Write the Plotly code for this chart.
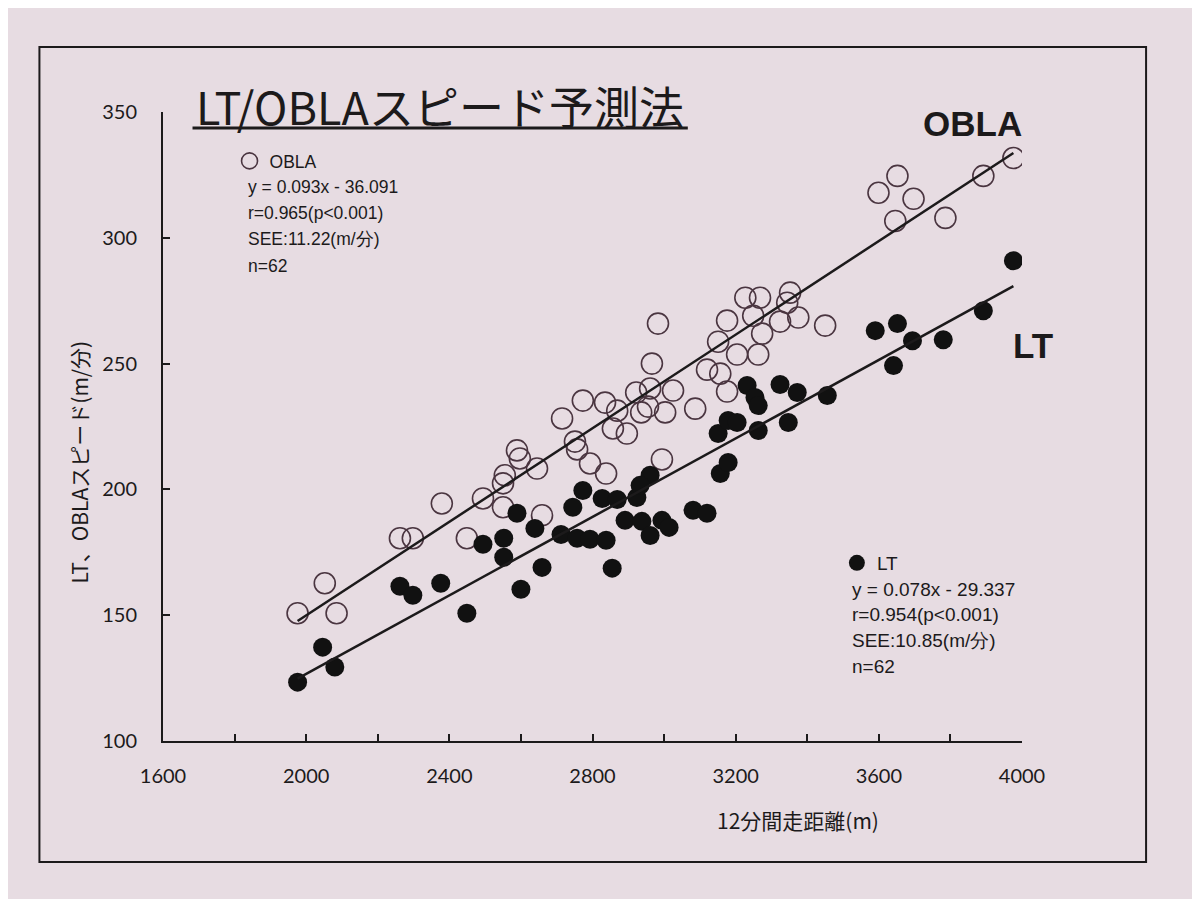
import plotly.graph_objects as go

# 12分間走距離 (m) と OBLA スピード (m/分)
obla_x = [1976, 2052, 2085, 2262, 2298, 2379, 2449, 2494, 2550, 2550,
          2555, 2589, 2597, 2645, 2659, 2715, 2751, 2757, 2773, 2793,
          2835, 2838, 2857, 2869, 2896, 2922, 2936, 2955, 2961, 2966,
          2983, 2994, 3003, 3025, 3087, 3120, 3151, 3157, 3176, 3176,
          3204, 3227, 3249, 3263, 3268, 3274, 3324, 3344, 3352, 3375,
          3450, 3599, 3652, 3646, 3697, 3786, 3892, 3976]
obla_y = [150.8, 162.7, 150.8, 180.6, 180.6, 194.4, 180.6, 196.4, 202.4, 192.9,
          205.6, 215.5, 212.3, 208.3, 189.7, 228.2, 219.0, 215.9, 235.3, 210.3,
          234.5, 206.3, 224.2, 231.3, 222.2, 238.5, 230.6, 232.9, 240.1, 250.0,
          265.9, 211.9, 230.6, 239.3, 232.1, 247.6, 258.7, 246.0, 267.1, 238.9,
          253.6, 276.2, 269.0, 253.6, 276.2, 261.9, 266.7, 274.2, 278.2, 268.3,
          265.1, 317.9, 324.6, 306.7, 315.5, 307.9, 324.6, 331.7]

# LT スピード (m/分)
lt_x = [1976, 2046, 2080, 2262, 2298, 2376, 2449, 2494, 2552, 2552,
        2589, 2600, 2639, 2659, 2712, 2745, 2757, 2773, 2793, 2827,
        2838, 2855, 2869, 2891, 2924, 2938, 2961, 2961, 2933, 2994,
        3014, 3081, 3120, 3157, 3179, 3151, 3179, 3204, 3232, 3254,
        3263, 3263, 3324, 3347, 3372, 3456, 3590, 3652, 3694, 3641,
        3780, 3892, 3976]
lt_y = [123.4, 137.3, 129.4, 161.5, 157.9, 162.7, 150.8, 178.2, 180.6, 173.0,
        190.5, 160.3, 184.5, 169.0, 182.1, 192.9, 180.6, 199.6, 180.2, 196.4,
        179.8, 168.7, 196.0, 187.7, 196.8, 187.3, 181.7, 205.6, 201.6, 187.7,
        184.9, 191.7, 190.5, 206.3, 210.7, 222.2, 227.4, 226.6, 241.3, 236.5,
        233.3, 223.4, 241.7, 226.6, 238.5, 237.3, 263.1, 265.9, 259.1, 249.2,
        259.5, 271.0, 290.9]

# 回帰式
obla_a, obla_b = 0.093, -36.091
lt_a, lt_b = 0.078, -29.337

obla_text = ["y = 0.093x - 36.091", "r=0.965(p<0.001)", "SEE:11.22(m/分)", "n=62"]
lt_text = ["y = 0.078x - 29.337", "r=0.954(p<0.001)", "SEE:10.85(m/分)", "n=62"]

x_ticks = [1600, 1800, 2000, 2200, 2400, 2600, 2800, 3000, 3200, 3400, 3600, 3800, 4000]
x_labels = [str(v) if v % 400 == 0 else "" for v in x_ticks]
y_ticks = [100, 150, 200, 250, 300, 350]

bg = "#e7dce2"
ink = "#1c1a1b"
num_font = "Lato, Open Sans, Arial"
txt_font = "Liberation Sans, Arial"
jp_font = "Noto Sans CJK JP"

# 参照画像上の座標 -> paper 座標
def px(v):
    return (v - 163.5) / 858.5

def py(v):
    return (741 - v) / 629

fig = go.Figure()

fig.add_trace(go.Scatter(
    x=obla_x, y=obla_y, mode="markers", name="OBLA", legend="legend",
    marker=dict(symbol="circle-open", size=21, color="#4a3540", line=dict(width=1.6))))
fig.add_trace(go.Scatter(
    x=lt_x, y=lt_y, mode="markers", name="LT", legend="legend2",
    marker=dict(symbol="circle", size=19, color="#111111", line=dict(width=0))))

ox = [min(obla_x), max(obla_x)]
fig.add_trace(go.Scatter(x=ox, y=[obla_a * v + obla_b for v in ox], mode="lines",
                         line=dict(color=ink, width=2.5), showlegend=False))
lx = [min(lt_x), max(lt_x)]
fig.add_trace(go.Scatter(x=lx, y=[lt_a * v + lt_b for v in lx], mode="lines",
                         line=dict(color=ink, width=2.5), showlegend=False))

fig.update_xaxes(range=[1600, 4000], tickvals=x_ticks, ticktext=x_labels,
                 ticks="inside", ticklen=7, tickwidth=1.5, tickcolor=ink,
                 showline=True, linecolor=ink, linewidth=2, showgrid=False, zeroline=False,
                 tickfont=dict(family=num_font, size=20, color=ink), ticklabelstandoff=16)
fig.update_yaxes(range=[100, 350], tickvals=y_ticks,
                 ticks="inside", ticklen=7, tickwidth=1.5, tickcolor=ink,
                 showline=True, linecolor=ink, linewidth=2, showgrid=False, zeroline=False,
                 tickfont=dict(family=num_font, size=20, color=ink), ticklabelstandoff=20)

ann = []
# タイトル
ann.append(dict(x=px(194), y=py(106), xref="paper", yref="paper", xanchor="left", yanchor="middle",
                text="LT/OBLAスピード予測法", showarrow=False,
                font=dict(family=jp_font, size=45, color=ink)))
# 回帰式の説明
for i, t in enumerate(obla_text):
    ann.append(dict(x=px(246), y=py(187 + i * 26.2), xref="paper", yref="paper",
                    xanchor="left", yanchor="middle", text=t, showarrow=False,
                    font=dict(family=txt_font, size=17.5, color=ink)))
for i, t in enumerate(lt_text):
    ann.append(dict(x=px(850), y=py(589 + i * 25.8), xref="paper", yref="paper",
                    xanchor="left", yanchor="middle", text=t, showarrow=False,
                    font=dict(family=txt_font, size=19, color=ink)))
# 系列ラベル
ann.append(dict(x=px(973), y=py(123), xref="paper", yref="paper",
                xanchor="center", yanchor="middle", text="<b>OBLA</b>", showarrow=False,
                font=dict(family=txt_font, size=35, color=ink)))
ann.append(dict(x=px(1033), y=py(345), xref="paper", yref="paper",
                xanchor="center", yanchor="middle", text="<b>LT</b>", showarrow=False,
                font=dict(family=txt_font, size=35, color=ink)))
# 軸タイトル
ann.append(dict(x=px(798), y=py(820), xref="paper", yref="paper",
                xanchor="center", yanchor="middle", text="12分間走距離(m)", showarrow=False,
                font=dict(family=jp_font, size=21, color=ink)))
ann.append(dict(x=px(80), y=py(462), xref="paper", yref="paper",
                xanchor="center", yanchor="middle", text="LT、OBLAスピード(m/分)",
                showarrow=False, textangle=-90,
                font=dict(family=jp_font, size=21, color=ink)))

shapes = [
    # タイトル下線
    dict(type="line", xref="paper", yref="paper", x0=px(193), x1=px(688),
         y0=py(128), y1=py(128), line=dict(color=ink, width=3)),
    # 枠
    dict(type="rect", xref="paper", yref="paper", x0=px(40), x1=px(1146),
         y0=py(862), y1=py(47), line=dict(color=ink, width=2), layer="below"),
]

legend_style = dict(xref="paper", yref="paper", xanchor="left", yanchor="middle",
                    bgcolor="rgba(0,0,0,0)", borderwidth=0, itemwidth=30,
                    itemsizing="trace")

fig.update_layout(width=1200, height=899,
                  margin=dict(l=155, r=186, t=104, b=166),
                  paper_bgcolor=bg, plot_bgcolor=bg,
                  legend=dict(x=px(230), y=py(161), font=dict(family=txt_font, size=17.5, color=ink),
                              **legend_style),
                  legend2=dict(x=px(837), y=py(563), font=dict(family=txt_font, size=19, color=ink),
                               **legend_style),
                  annotations=ann, shapes=shapes)

fig.write_html("out.html")
